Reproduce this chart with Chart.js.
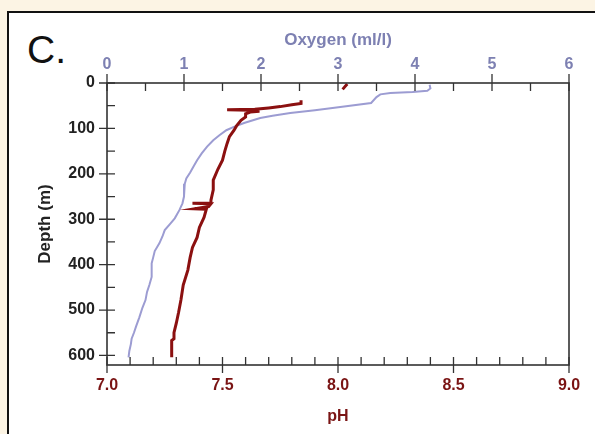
<!DOCTYPE html>
<html>
<head>
<meta charset="utf-8">
<script src="https://cdn.jsdelivr.net/npm/chart.js@4.4.1/dist/chart.umd.min.js"></script>
<style>
	html, body { margin: 0; padding: 0; }
	body { width: 595px; height: 434px; background: #fcf4e4; overflow: hidden; position: relative; font-family: "Liberation Sans", Arial, sans-serif; }
	#panel { position: absolute; left: 7px; top: 11px; width: 700px; height: 600px; background: #fff; border: 2px solid #111; }
	#lbl { position: absolute; left: 27px; top: 28px; font-size: 39px; line-height: 44px; color: #111; }
	#wrap { position: absolute; left: 0; top: 0; width: 595px; height: 434px; }
</style>
</head>
<body>
<div id="panel"></div>
<div id="lbl">C.</div>
<div id="wrap"><canvas id="grafico" width="595" height="434"></canvas></div>
<script>
// oxygen profile (ml/l) against depth (m)
var oxyDepth = [4, 12, 17, 20, 22, 25, 31, 44, 53, 60, 66, 72, 77, 88, 97, 104, 115, 126, 140, 155, 170, 185, 197, 210, 222, 236, 250, 265, 280, 298, 310, 324, 338, 353, 370, 384, 397, 412, 427, 445, 460, 478, 495, 516, 535, 550, 563, 575, 590, 604];
var oxyVal = [4.19, 4.20, 4.16, 3.97, 3.68, 3.55, 3.50, 3.43, 3.03, 2.70, 2.38, 2.15, 1.99, 1.78, 1.64, 1.55, 1.46, 1.38, 1.30, 1.23, 1.17, 1.12, 1.08, 1.03, 1.01, 1.00, 1.00, 0.98, 0.94, 0.88, 0.82, 0.75, 0.72, 0.68, 0.62, 0.60, 0.58, 0.58, 0.58, 0.55, 0.52, 0.50, 0.46, 0.42, 0.38, 0.35, 0.32, 0.31, 0.29, 0.28];

// pH profile against depth (m), null = gap in the record
var phDepth = [2, 8, 14, null, 38, 45, 48, 52, 55, 58, 59, 60, 62, 64, 68, 75, 82, 95, 104, 118, 133, 150, 170, 190, 214, 235, 258, 264, 265, 266, 272, 277, 278, 296, 318, 340, 362, 384, 412, 445, 478, 505, 529, 550, 563, 567, 585, 604];
var phVal = [8.04, 8.03, 8.02, null, 7.84, 7.84, 7.80, 7.75, 7.70, 7.64, 7.52, 7.62, 7.66, 7.62, 7.60, 7.60, 7.58, 7.56, 7.55, 7.53, 7.52, 7.51, 7.50, 7.48, 7.46, 7.46, 7.45, 7.45, 7.37, 7.45, 7.44, 7.38, 7.43, 7.42, 7.40, 7.39, 7.37, 7.36, 7.35, 7.33, 7.32, 7.31, 7.30, 7.29, 7.29, 7.28, 7.28, 7.28];

// tick labels
var depthTicks = [0, 100, 200, 300, 400, 500, 600];
var depthMinor = [50, 150, 250, 350, 450, 550];
var oxyTicks = [0, 1, 2, 3, 4, 5, 6];
var oxyMinor = [0.5, 1.5, 2.5, 3.5, 4.5, 5.5];
var phTicks = [7.0, 7.5, 8.0, 8.5, 9.0];
var phMinor = [7.1, 7.2, 7.3, 7.4, 7.6, 7.7, 7.8, 7.9, 8.1, 8.2, 8.3, 8.4, 8.6, 8.7, 8.8, 8.9];

var corOxy = '#7d80b2';
var corPh = '#7a1414';

var pares = (xs, ys) => xs.map((v, i) => ({ x: v, y: ys[i] }));

var fixar = (lista) => (scale) => { scale.ticks = lista.map(v => ({ value: v })); };

// frame box plus inner/outer tick marks
var moldura = {
	id: 'moldura',
	afterDatasetsDraw(chart) {
		const ctx = chart.ctx;
		const a = chart.chartArea;
		const sy = chart.scales.y, sx = chart.scales.x, sx2 = chart.scales.x2;
		ctx.save();
		ctx.strokeStyle = '#333';
		ctx.lineWidth = 1.3;
		ctx.beginPath();
		depthTicks.forEach(v => { const p = sy.getPixelForValue(v); ctx.moveTo(a.left - 8, p); ctx.lineTo(a.left + 8, p); });
		depthMinor.forEach(v => { const p = sy.getPixelForValue(v); ctx.moveTo(a.left, p); ctx.lineTo(a.left + 8, p); });
		oxyTicks.forEach(v => { const p = sx2.getPixelForValue(v); ctx.moveTo(p, a.top - 9); ctx.lineTo(p, a.top + 8); });
		oxyMinor.forEach(v => { const p = sx2.getPixelForValue(v); ctx.moveTo(p, a.top); ctx.lineTo(p, a.top + 8); });
		phTicks.forEach(v => { const p = sx.getPixelForValue(v); ctx.moveTo(p, a.bottom - 8); ctx.lineTo(p, a.bottom + 8); });
		phMinor.forEach(v => { const p = sx.getPixelForValue(v); ctx.moveTo(p, a.bottom - 8); ctx.lineTo(p, a.bottom); });
		ctx.stroke();
		ctx.lineWidth = 1.6;
		ctx.strokeRect(a.left, a.top, a.right - a.left, a.bottom - a.top);
		ctx.restore();
	}
};

var fonteTick = { family: '"Liberation Sans", Arial, sans-serif', size: 16, weight: 'bold' };
var fonteTit = { family: '"Liberation Sans", Arial, sans-serif', size: 17, weight: 'bold' };

new Chart(document.getElementById('grafico'), {
	type: 'scatter',
	data: {
		datasets: [{
			label: 'pH',
			data: pares(phVal, phDepth),
			xAxisID: 'x',
			yAxisID: 'y',
			showLine: true,
			spanGaps: false,
			borderColor: '#8b1010',
			borderWidth: 3,
			pointRadius: 0,
			tension: 0,
			order: 1
		}, {
			label: 'Oxygen',
			data: pares(oxyVal, oxyDepth),
			xAxisID: 'x2',
			yAxisID: 'y',
			showLine: true,
			borderColor: '#9c9cd2',
			borderWidth: 2,
			pointRadius: 0,
			tension: 0,
			order: 2
		}]
	},
	options: {
		responsive: false,
		animation: false,
		devicePixelRatio: 1,
		layout: { padding: { left: 30, top: 20, right: 26, bottom: 0 } },
		plugins: { legend: { display: false }, tooltip: { enabled: false } },
		scales: {
			y: {
				type: 'linear',
				position: 'left',
				reverse: true,
				min: 0,
				max: 621,
				afterBuildTicks: fixar(depthTicks),
				afterFit: (s) => { s.width = 77; },
				grid: { display: false, drawTicks: false },
				border: { display: false },
				ticks: { padding: 12, color: '#222', font: fonteTick },
				title: { display: true, text: 'Depth (m)', color: '#222', font: fonteTit, padding: { top: 5, bottom: 0 } }
			},
			x: {
				type: 'linear',
				position: 'bottom',
				min: 7,
				max: 9,
				afterBuildTicks: fixar(phTicks),
				afterFit: (s) => { s.height = 69; },
				grid: { display: false, drawTicks: false },
				border: { display: false },
				ticks: { padding: 11, color: corPh, font: fonteTick, callback: (v) => Number(v).toFixed(1) },
				title: { display: true, text: 'pH', color: corPh, font: fonteTick, padding: { top: 0, bottom: 8 } }
			},
			x2: {
				type: 'linear',
				position: 'top',
				min: 0,
				max: 6,
				afterBuildTicks: fixar(oxyTicks),
				afterFit: (s) => { s.height = 63; },
				grid: { display: false, drawTicks: false },
				border: { display: false },
				ticks: { padding: 9, color: corOxy, font: fonteTick },
				title: { display: true, text: 'Oxygen (ml/l)', color: corOxy, font: fonteTit, padding: { top: 10, bottom: 0 } }
			}
		}
	},
	plugins: [moldura]
});
</script>
</body>
</html>
